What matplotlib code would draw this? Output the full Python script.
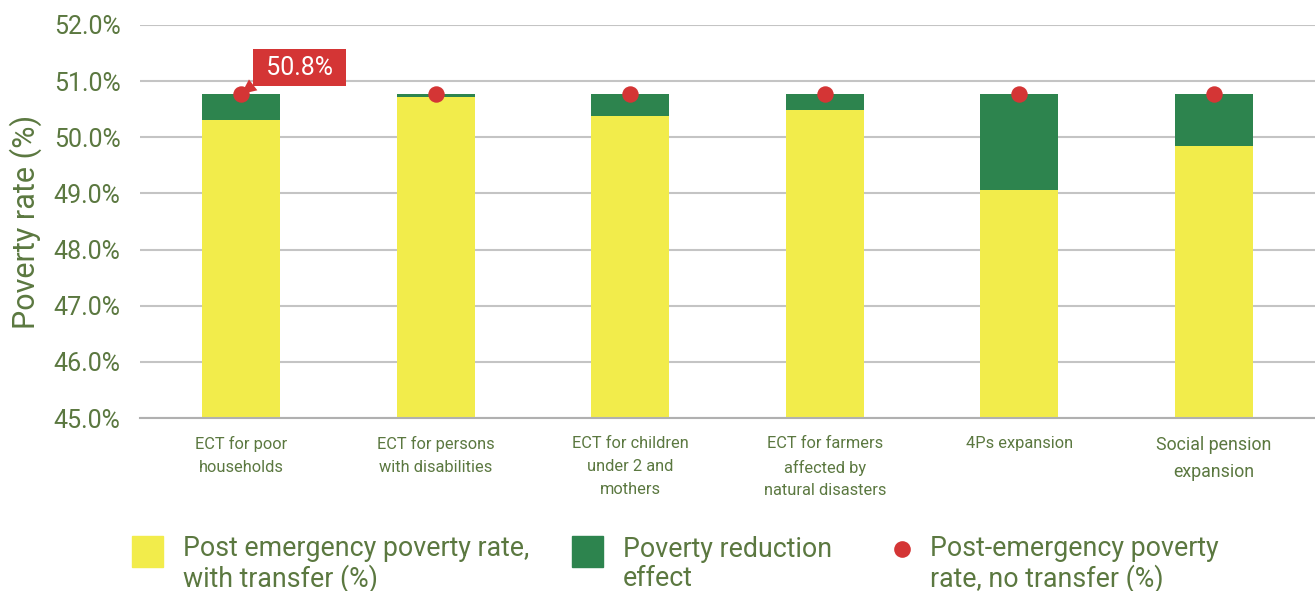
import matplotlib
matplotlib.use("Agg")
import matplotlib.pyplot as plt
from matplotlib.patches import Rectangle
from matplotlib.lines import Line2D
import numpy as np

programs = ["ECT for poor\nhouseholds", "ECT for persons\nwith disabilities",
            "ECT for children\nunder 2 and\nmothers", "ECT for farmers\naffected by\nnatural disasters",
            "4Ps expansion", "Social pension\nexpansion"]
with_transfer = [50.31, 50.71, 50.38, 50.49, 49.06, 49.84]
no_transfer = [50.77, 50.77, 50.77, 50.77, 50.77, 50.77]
reduction = [n - w for n, w in zip(no_transfer, with_transfer)]

yellow = "#f2ec4b"
green = "#2d844e"
red = "#d43535"
txt = "#5b7840"

plt.rcParams['font.family'] = ['Roboto', 'DejaVu Sans']

fig = plt.figure(figsize=(13.15, 5.91), dpi=100)
ax = fig.add_axes([0.1065, 0.2927, 0.8935, 0.665])

x = np.arange(len(programs))
ax.bar(x, with_transfer, width=0.4, color=yellow, zorder=2)
ax.bar(x, reduction, width=0.4, bottom=with_transfer, color=green, zorder=2)
ax.scatter(x, no_transfer, s=140, color=red, zorder=3, linewidths=0)

ax.set_ylim(45, 52)
ax.set_xlim(-0.52, 5.52)
ax.set_yticks(np.arange(45, 52.5, 1))
ax.set_yticklabels([f"{v:.1f}%" for v in np.arange(45, 52.5, 1)])
ax.set_xticks(x)
ax.set_xticklabels(programs, linespacing=1.65)
for i, lab in enumerate(ax.get_xticklabels()):
    lab.set_fontsize(12.8 if i == 5 else 11.8)
    lab.set_color(txt)
for lab in ax.get_yticklabels():
    lab.set_fontsize(18)
    lab.set_color(txt)
ax.tick_params(axis='y', length=0, pad=14)
ax.tick_params(axis='x', length=0, pad=13)
ax.grid(axis='y', color='#c4c4c4', linewidth=1.5, zorder=0)
for s in ['top', 'right', 'left']:
    ax.spines[s].set_visible(False)
ax.spines['bottom'].set_color('#b0b0b0')
ax.spines['bottom'].set_linewidth(1.5)
ax.set_ylabel("Poverty rate (%)", fontsize=22, color=txt, labelpad=8)

ax.annotate(f" {no_transfer[0]:.1f}% ", xy=(x[0], no_transfer[0]), xytext=(42, 19),
            textcoords='offset points', color='white', fontsize=18,
            ha='center', va='center',
            bbox=dict(boxstyle='square,pad=0.27', fc=red, ec='none'),
            arrowprops=dict(arrowstyle='wedge,tail_width=0.55', fc=red, ec='none',
                            relpos=(0.0, 0.0), shrinkA=0, shrinkB=0), zorder=4)

# legend
leg_items = [("sq", yellow, "Post emergency poverty rate,\nwith transfer (%)", 132),
             ("sq", green, "Poverty reduction\neffect", 572),
             ("dot", red, "Post-emergency poverty\nrate, no transfer (%)", 887)]
W, H = 1315, 591
for kind, c, lab, px in leg_items:
    if kind == "sq":
        fig.add_artist(Rectangle((px / W, 1 - 567 / H), 31 / W, 31 / H, color=c,
                                 transform=fig.transFigure))
        tx = px + 51
    else:
        fig.add_artist(Line2D([(px + 15) / W], [1 - 549 / H], marker='o', markersize=12,
                              color=c, markeredgewidth=0, transform=fig.transFigure))
        tx = px + 43
    fig.text(tx / W, 1 - 564 / H, lab, fontsize=19.3, color=txt,
             va='center', ha='left', linespacing=1.08)

fig.savefig("out.png", dpi=100)
